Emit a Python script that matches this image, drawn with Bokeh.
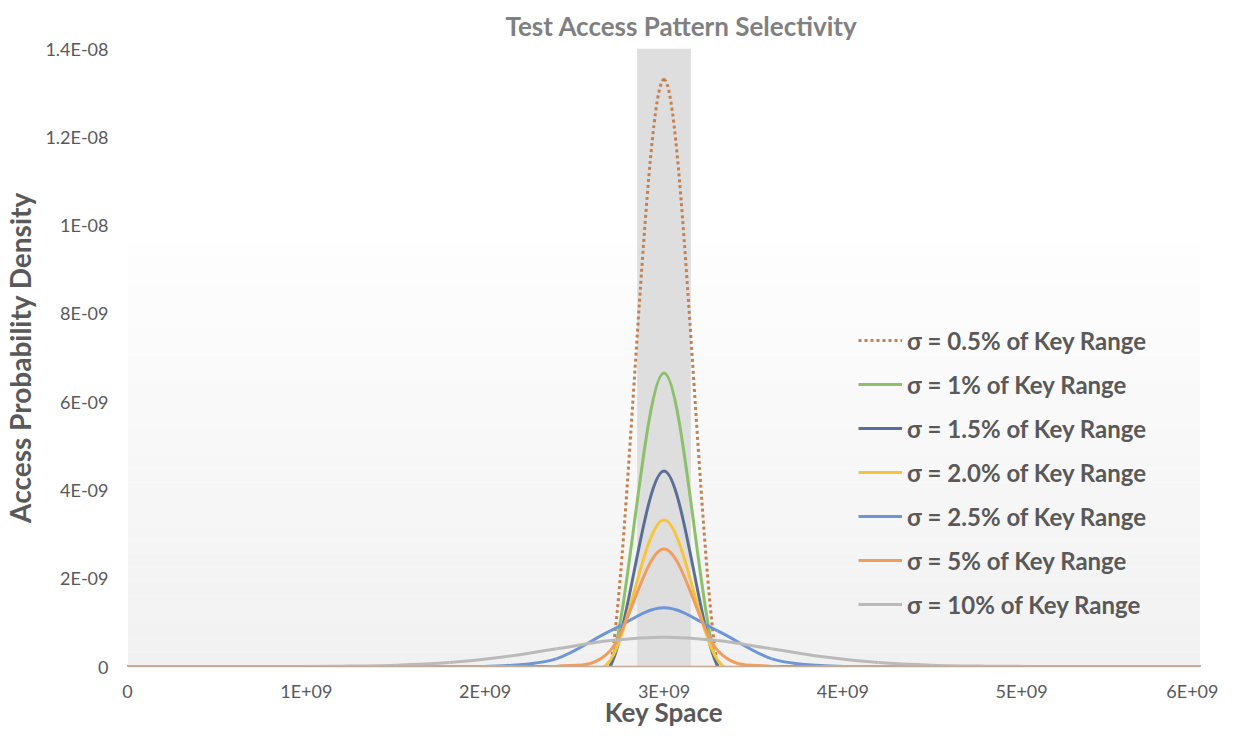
import numpy as np
from bokeh.plotting import figure
from bokeh.models import Range1d, FixedTicker, Legend, LegendItem, BoxAnnotation
from bokeh.embed import file_html
from bokeh.resources import INLINE

# ---- data (sample points of each series) ----
key_space = [0.0, 0.3e9, 0.6e9, 0.9e9, 1.2e9, 1.5e9, 1.8e9, 2.1e9, 2.4e9, 2.7e9, 3.0e9,
             3.3e9, 3.6e9, 3.9e9, 4.2e9, 4.5e9, 4.8e9, 5.1e9, 5.4e9, 5.7e9, 6.0e9]

sig_0_5 = [0, 0, 0, 0, 0, 0, 0, 0, 0, 0, 1.33e-8, 0, 0, 0, 0, 0, 0, 0, 0, 0, 0]
sig_1_0 = [0, 0, 0, 0, 0, 0, 0, 0, 0, 0, 6.65e-9, 0, 0, 0, 0, 0, 0, 0, 0, 0, 0]
sig_1_5 = [0, 0, 0, 0, 0, 0, 0, 0, 0, 1.7e-11, 4.43e-9, 1.7e-11, 0, 0, 0, 0, 0, 0, 0, 0, 0]
sig_2_0 = [0, 0, 0, 0, 0, 0, 0, 0, 0, 1.46e-10, 3.32e-9, 1.46e-10, 0, 0, 0, 0, 0, 0, 0, 0, 0]
sig_2_5 = [0, 0, 0, 0, 0, 0, 4e-13, 1.5e-11, 1.8e-10, 8.07e-10, 1.33e-9, 8.07e-10, 1.8e-10,
           1.5e-11, 4e-13, 0, 0, 0, 0, 0, 0]
sig_5_0 = [0, 0, 0, 0, 0, 0, 0, 0, 1e-12, 3.6e-10, 2.66e-9, 3.6e-10, 1e-12, 0, 0, 0, 0, 0, 0, 0, 0]
sig_10 = [0, 0, 0, 1.5e-12, 7.4e-12, 2.9e-11, 9.0e-11, 2.16e-10, 4.03e-10, 5.87e-10, 6.65e-10,
          5.87e-10, 4.03e-10, 2.16e-10, 9.0e-11, 2.9e-11, 7.4e-12, 1.5e-12, 0, 0, 0]

series_labels = ["σ = 0.5% of Key Range", "σ = 1% of Key Range", "σ = 1.5% of Key Range",
                 "σ = 2.0% of Key Range", "σ = 2.5% of Key Range", "σ = 5% of Key Range",
                 "σ = 10% of Key Range"]
series_values = [sig_0_5, sig_1_0, sig_1_5, sig_2_0, sig_2_5, sig_5_0, sig_10]
series_colors = ["#c4804f", "#8cc06a", "#5a6e96", "#f6c53c", "#6e96d5", "#f09d5e", "#bababa"]
series_dash = ["dotted", "solid", "solid", "solid", "solid", "solid", "solid"]

x_ticks = [0, 1e9, 2e9, 3e9, 4e9, 5e9, 6e9]
x_tick_labels = ["0", "1E+09", "2E+09", "3E+09", "4E+09", "5E+09", "6E+09"]
y_ticks = [0, 2e-9, 4e-9, 6e-9, 8e-9, 1e-8, 1.2e-8, 1.4e-8]
y_tick_labels = ["0", "2E-09", "4E-09", "6E-09", "8E-09", "1E-08", "1.2E-08", "1.4E-08"]

highlight_band = (2.85e9, 3.15e9)

title_text = "Test Access Pattern Selectivity"
x_title = "Key Space"
y_title = "Access Probability Density"

FONT = "Lato"
TXT = "#595959"

p = figure(width=1218, height=730, x_range=Range1d(0, 6e9), y_range=Range1d(0, 1.4e-8),
           output_backend="svg", toolbar_location=None,
           min_border_left=127, min_border_right=18, min_border_top=48, min_border_bottom=63)

p.title.text = title_text
p.title.align = "right"
p.title.offset = 343
p.title.vertical_align = "top"
p.title.text_font = FONT
p.title.text_font_size = "26px"
p.title.text_font_style = "bold"
p.title.text_color = "#808080"

p.outline_line_color = None
p.grid.visible = False
p.background_fill_color = "white"
p.border_fill_color = "white"

# background gradient (Excel style) from ~9.6E-09 down to 0
n_bands = 30
top_val = 9.6e-9
for i in range(n_bands):
    b0 = top_val * i / n_bands
    b1 = top_val * (i + 1) / n_bands
    g = int(round(254 - (254 - 241) * (1 - (i + 0.5) / n_bands)))
    p.add_layout(BoxAnnotation(bottom=b0, top=b1, fill_color=(g, g, g), fill_alpha=1.0,
                               line_color=None, level="underlay"))

p.add_layout(BoxAnnotation(left=highlight_band[0], right=highlight_band[1], fill_color="#dedede",
                           fill_alpha=1.0, line_color=None, level="underlay"))

# smooth curves through the sample points (Excel-like smoothed line)
xs = np.array(key_space, dtype=float)
legend_items = []
for lab, vals, col, dash in zip(series_labels, series_values, series_colors, series_dash):
    ys = np.array(vals, dtype=float)
    n = len(xs)
    x0 = xs[:-1]; y0 = ys[:-1]; x1 = xs[1:]; y1 = ys[1:]
    prev_i = np.maximum(np.arange(n - 1) - 1, 0)
    next_i = np.minimum(np.arange(n - 1) + 2, n - 1)
    cx0 = x0 + (x1 - xs[prev_i]) / 6.0
    cy0 = y0 + (y1 - ys[prev_i]) / 6.0
    cx1 = x1 - (xs[next_i] - x0) / 6.0
    cy1 = y1 - (ys[next_i] - y0) / 6.0
    kw = dict(line_color=col, line_width=3)
    if dash == "dotted":
        kw["line_dash"] = "3 3"
    p.bezier(x0=x0, y0=y0, x1=x1, y1=y1, cx0=cx0, cy0=cy0, cx1=cx1, cy1=cy1, **kw)
    # single-point line (draws nothing in the plot) used as the legend swatch
    r = p.line(x=[xs[0]], y=[ys[0]], **kw)
    legend_items.append(LegendItem(label=lab, renderers=[r]))

legend = Legend(items=legend_items, location=(731, 47), orientation="vertical",
                label_text_font=FONT, label_text_font_size="24px", label_text_font_style="bold",
                label_text_color=TXT, glyph_width=44, glyph_height=30, label_height=30,
                spacing=14, padding=0, margin=0, label_standoff=5,
                border_line_color=None, background_fill_alpha=0)
p.add_layout(legend)

p.xaxis.ticker = FixedTicker(ticks=x_ticks)
p.xaxis.major_label_overrides = {t: s for t, s in zip(x_ticks, x_tick_labels)}
p.yaxis.ticker = FixedTicker(ticks=y_ticks)
p.yaxis.major_label_overrides = {t: s for t, s in zip(y_ticks, y_tick_labels)}

for ax in (p.xaxis[0], p.yaxis[0]):
    ax.major_tick_line_color = None
    ax.minor_tick_line_color = None
    ax.major_tick_out = 0
    ax.major_tick_in = 0
    ax.minor_tick_out = 0
    ax.minor_tick_in = 0
    ax.major_label_text_font = FONT
    ax.major_label_text_font_size = "18px"
    ax.major_label_text_color = TXT
    ax.axis_label_text_font = FONT
    ax.axis_label_text_font_style = "bold"
    ax.axis_label_text_color = TXT

p.yaxis.axis_label_text_font_size = "28px"
p.xaxis.axis_label_text_font_size = "26px"

p.xaxis.axis_line_color = "#c2ab95"
p.xaxis.axis_line_width = 1.5
p.yaxis.axis_line_color = None
p.xaxis.axis_label = x_title
p.yaxis.axis_label = y_title
p.xaxis.major_label_standoff = 13
p.yaxis.major_label_standoff = 19
p.xaxis.axis_label_standoff = -9
p.yaxis.axis_label_standoff = 5

open("out.html", "w").write(file_html(p, INLINE))
